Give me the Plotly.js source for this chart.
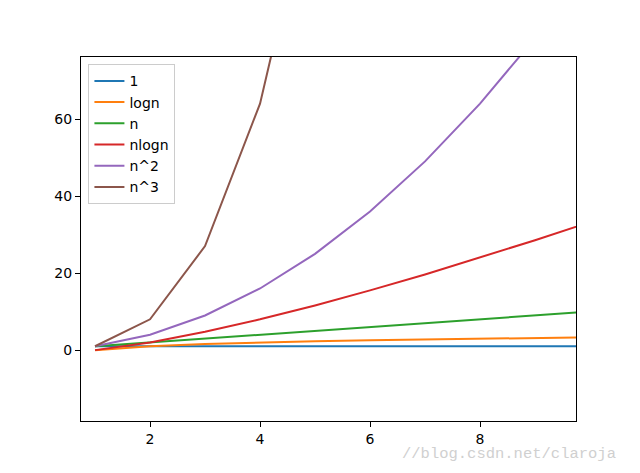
<!DOCTYPE html>
<html><head><meta charset="utf-8">
<script src="https://cdn.plot.ly/plotly-3.0.1.min.js"></script>
<style>html,body{margin:0;padding:0;background:#fff}</style>
</head><body>
<div id="chart" style="width:640px;height:473px"></div>
<script>
const n = [1, 2, 3, 4, 5, 6, 7, 8, 9, 10];
const yConst = [1, 1, 1, 1, 1, 1, 1, 1, 1, 1];
const yLogn = [0, 1, 1.585, 2, 2.322, 2.585, 2.807, 3, 3.17, 3.322];
const yN = [1, 2, 3, 4, 5, 6, 7, 8, 9, 10];
const yNlogn = [0, 2, 4.755, 8, 11.61, 15.51, 19.65, 24, 28.53, 33.22];
const yN2 = [1, 4, 9, 16, 25, 36, 49, 64, 81, 100];
const yN3 = [1, 8, 27, 64, 125, 216, 343, 512, 729, 1000];
const names = ["1", "logn", "n", "nlogn", "n^2", "n^3"];
const colors = ["#1f77b4", "#ff7f0e", "#2ca02c", "#d62728", "#9467bd", "#8c564b"];
const series = [yConst, yLogn, yN, yNlogn, yN2, yN3];

const traces = series.map((y, i) => ({
  x: n, y: y, name: names[i], type: "scatter", mode: "lines",
  line: {color: colors[i], width: 2}
}));

const font = {family: "DejaVu Sans", size: 14, color: "#000"};
const layout = {
  width: 640, height: 473,
  margin: {l: 81, r: 64, t: 57, b: 52},
  paper_bgcolor: "#fff", plot_bgcolor: "#fff",
  font: font,
  showlegend: true,
  legend: {x: 0.015, y: 0.98, xanchor: "left", yanchor: "top",
    bordercolor: "#cccccc", borderwidth: 1, bgcolor: "rgba(255,255,255,0.8)",
    font: {family: "DejaVu Sans", size: 14, color: "#000"}, tracegroupgap: 0},
  xaxis: {range: [0.745, 9.745], tickvals: [2, 4, 6, 8], ticktext: ["2", "4", "6", "8"],
    showgrid: false, zeroline: false, showline: true, mirror: true, linecolor: "#000", linewidth: 1,
    ticks: "outside", ticklen: 5, tickcolor: "#000", tickfont: font},
  yaxis: {range: [-18.4, 76.1], tickvals: [0, 20, 40, 60], ticktext: ["0", "20", "40", "60"],
    showgrid: false, zeroline: false, showline: true, mirror: true, linecolor: "#000", linewidth: 1,
    ticks: "outside", ticklen: 5, tickcolor: "#000", tickfont: font},
  annotations: [{
    xref: "paper", yref: "paper", x: 1.085, y: -0.09, xanchor: "right", yanchor: "middle",
    text: "//blog.csdn.net/claroja", showarrow: false,
    font: {family: "Liberation Mono", size: 15.5, color: "#d0d0d0"}
  }]
};
Plotly.newPlot("chart", traces, layout, {displayModeBar: false, staticPlot: true});
</script>
</body></html>
